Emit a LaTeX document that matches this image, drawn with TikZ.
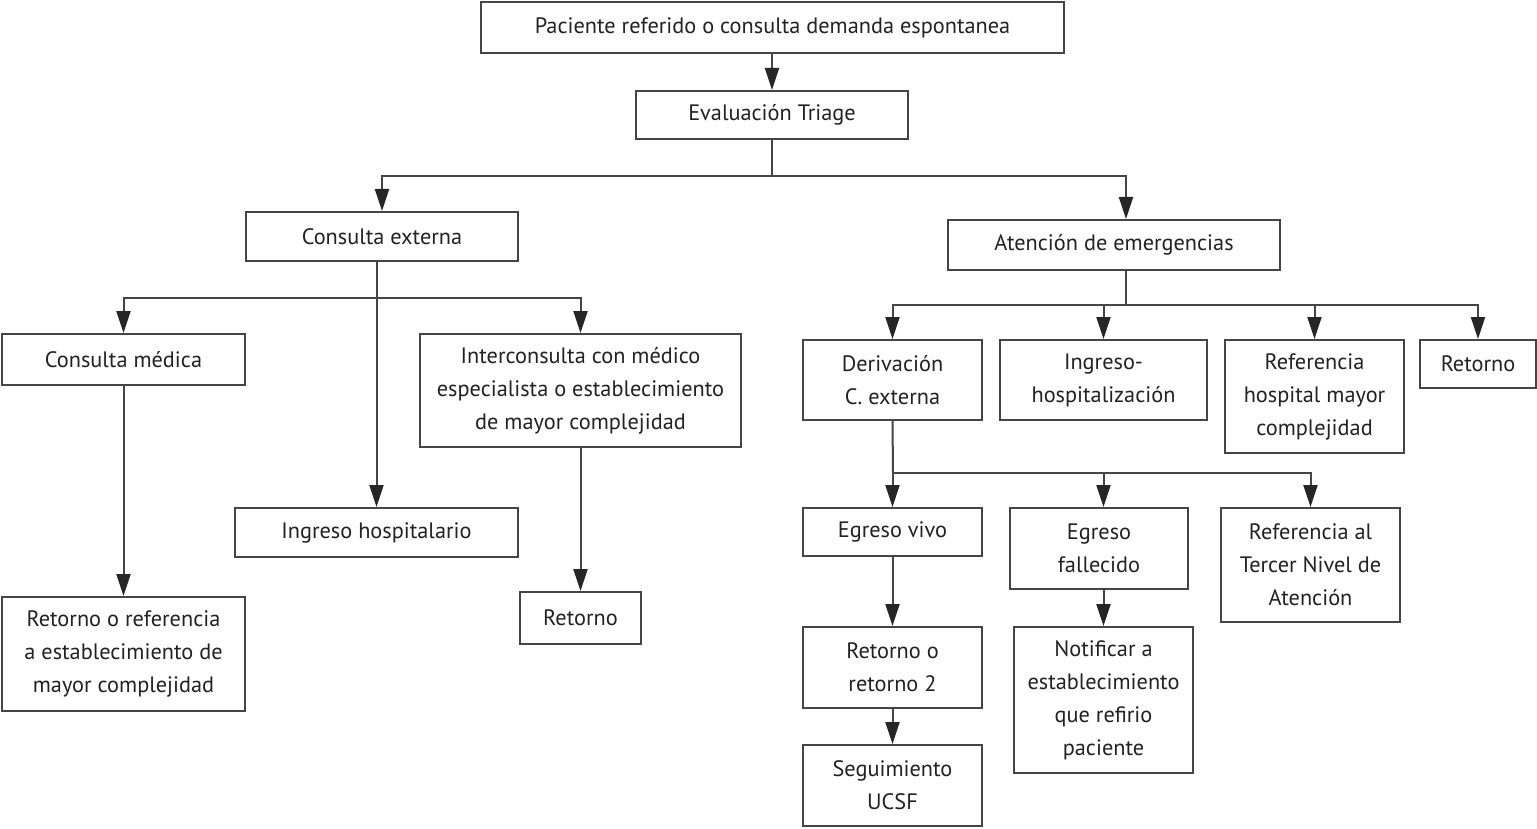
\documentclass[tikz,border=0pt]{standalone}
\usepackage{fontspec}
\setmainfont{PT Sans}
\usetikzlibrary{arrows.meta}
\definecolor{linec}{HTML}{454545}
\definecolor{txtc}{HTML}{222222}
\tikzset{
  box/.style={draw=linec, line width=2pt, fill=white, inner sep=0pt, align=center,
    text=txtc, font=\fontsize{22.3}{33}\selectfont},
  conn/.style={draw=linec, line width=2pt},
  arr/.style={conn, -{Triangle[length=22pt,width=14pt,fill=black!85,color=black!85]}}
}
\begin{document}
\begin{tikzpicture}[x=1pt,y=-1pt]
\useasboundingbox[fill=white] (0,0) rectangle (1537,829);
% nodes
\node[box, minimum width=583pt, minimum height=51pt] (pac) at (772.5,27.5) {Paciente referido o consulta demanda espontanea};
\node[box, minimum width=272pt, minimum height=48pt] (tri) at (772,115) {Evaluación Triage};
\node[box, minimum width=272pt, minimum height=49pt] (ce) at (382,236.5) {Consulta externa};
\node[box, minimum width=332pt, minimum height=50pt] (ae) at (1114,245) {Atención de emergencias};
\node[box, minimum width=243pt, minimum height=51pt] (cm) at (123.5,359.5) {Consulta médica};
\node[box, minimum width=321pt, minimum height=113pt] (ic) at (580.5,390.5) {Interconsulta con médico\\especialista o establecimiento\\de mayor complejidad};
\node[box, minimum width=283pt, minimum height=49pt] (ih) at (376.5,532.5) {Ingreso hospitalario};
\node[box, minimum width=243pt, minimum height=114pt] (rr) at (123.5,654) {Retorno o referencia\\a establecimiento de\\mayor complejidad};
\node[box, minimum width=121pt, minimum height=52pt] (ret1) at (580.5,618) {Retorno};
\node[box, minimum width=179pt, minimum height=80pt] (der) at (892.5,380) {Derivación\\C. externa};
\node[box, minimum width=207pt, minimum height=80pt] (ing) at (1103.5,380) {Ingreso-\\hospitalización};
\node[box, minimum width=179pt, minimum height=113pt] (ref) at (1314.5,396.5) {Referencia\\hospital mayor\\complejidad};
\node[box, minimum width=116pt, minimum height=48pt] (ret2) at (1478,364) {Retorno};
\node[box, minimum width=179pt, minimum height=48pt] (ev) at (892.5,532) {Egreso vivo};
\node[box, minimum width=178pt, minimum height=81pt] (ef) at (1099,548.5) {Egreso\\fallecido};
\node[box, minimum width=179pt, minimum height=114pt] (tn) at (1310.5,565) {Referencia al\\Tercer Nivel de\\Atención};
\node[box, minimum width=179pt, minimum height=81pt] (ro) at (892.5,667.5) {Retorno o\\retorno 2};
\node[box, minimum width=179pt, minimum height=81pt] (seg) at (892.5,785.5) {Seguimiento\\UCSF};
\node[box, minimum width=179pt, minimum height=146pt] (not) at (1103.5,700) {Notificar a\\establecimiento\\que refirio\\paciente};
% bus coordinates
\coordinate (b1) at (772,176);
\coordinate (b2) at (377,298);
\coordinate (b3) at (1126,305);
\coordinate (b4) at (893,473);
% connectors
\draw[arr] (pac.south -| tri.north) -- (tri.north);
\draw[conn] (tri.south) -- (b1);
\draw[arr] (b1) -| (ce.north);
\draw[arr] (b1) -| (ae.north -| b3);
\draw[arr] (b2) -| (cm.north);
\draw[arr] (b2) -| (ic.north);
\draw[arr] (ce.south -| ih.north) -- (ih.north);
\draw[arr] (cm.south) -- (rr.north);
\draw[arr] (ic.south) -- (ret1.north);
\draw[conn] (ae.south -| b3) -- (b3);
\draw[arr] (b3) -| (der.north);
\draw[arr] (b3) -| (ing.north);
\draw[arr] (b3) -| (ref.north);
\draw[arr] (b3) -| (ret2.north);
\draw[conn] (der.south) -- (b4);
\draw[arr] (b4) -| (ev.north);
\draw[arr] (b4) -| (ef.north -| not.north);
\draw[arr] (b4) -| (tn.north);
\draw[arr] (ev.south) -- (ro.north);
\draw[arr] (ro.south) -- (seg.north);
\draw[arr] (ef.south -| not.north) -- (not.north);
\end{tikzpicture}
\end{document}
